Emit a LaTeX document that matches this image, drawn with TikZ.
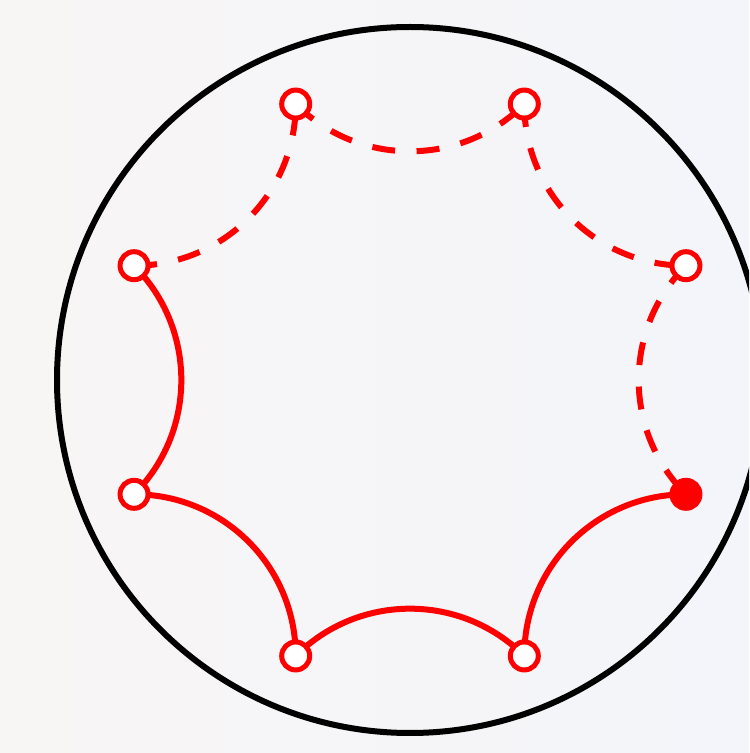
\documentclass[tikz,border=0pt]{standalone}
\usetikzlibrary{calc}
\usetikzlibrary{backgrounds}

\begin{document}
\begin{tikzpicture}[
		disk/.style = {draw=black, line width=0.06cm},
		vertex/.style = {circle, draw=red, fill=white, line width=0.05cm, minimum size=0.28cm, inner sep=0pt},
		marked/.style = {vertex, fill=red},
		side/.style = {draw=red, line width=0.06cm},
		glued/.style = {side, dash pattern=on 0.23cm off 0.215cm}
		]
		\useasboundingbox (0,0) rectangle (7.49,7.53);
		\clip (0,0) rectangle (7.49,7.53);
		\coordinate (o) at (4.10,3.73);
		\draw[disk] (o) circle (3.53cm);
		
		% octagon vertices
		\node[vertex] (v1) at ([shift={(157.5:2.987)}]o) {};
		\node[vertex] (v2) at ([shift={(202.5:2.987)}]o) {};
		\node[vertex] (v3) at ([shift={(247.5:2.987)}]o) {};
		\node[vertex] (v4) at ([shift={(292.5:2.987)}]o) {};
		\node[marked] (v5) at ([shift={(337.5:2.987)}]o) {};
		\node[vertex] (v6) at ([shift={(22.5:2.987)}]o) {};
		\node[vertex] (v7) at ([shift={(67.5:2.987)}]o) {};
		\node[vertex] (v8) at ([shift={(112.5:2.987)}]o) {};
		
		\begin{scope}[on background layer]
			\shade[left color={rgb,255:red,248;green,245;blue,245}, right color={rgb,255:red,243;green,245;blue,250}] (0,0) rectangle (7.49,7.53);
			\draw[side] (v1.center) to[bend left=45] (v2.center) to[bend left=45] (v3.center)
				to[bend left=45] (v4.center) to[bend left=45] (v5.center);
			\draw[glued] (v1.center) to[bend right=45] (v8.center);
			\draw[glued] (v8.center) to[bend right=45] (v7.center);
			\draw[glued] (v7.center) to[bend right=45] (v6.center);
			\draw[glued] (v6.center) to[bend right=45] (v5.center);
		\end{scope}
	\end{tikzpicture}
\end{document}
